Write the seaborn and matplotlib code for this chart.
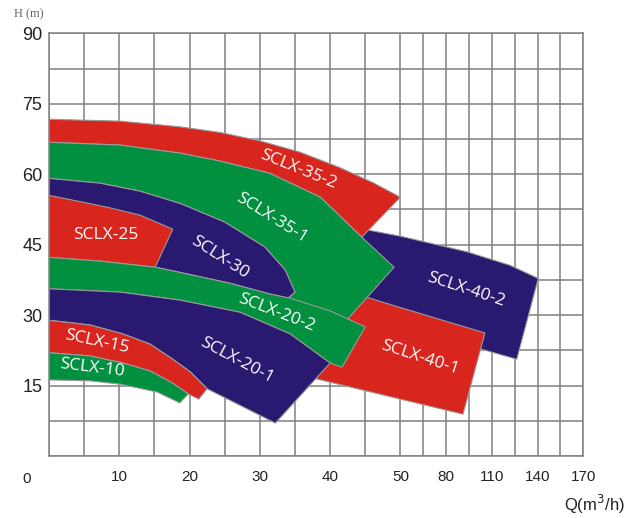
import numpy as np
import matplotlib
matplotlib.use("Agg")
import matplotlib.pyplot as plt
import seaborn as sns

# Pump performance bands, flow Q (m3/h) vs head H (m)
# each band: upper curve and lower curve, listed left to right
models = ["SCLX-40-2", "SCLX-40-1", "SCLX-35-2", "SCLX-35-1", "SCLX-30",
          "SCLX-25", "SCLX-20-2", "SCLX-20-1", "SCLX-15", "SCLX-10"]

q_top_40_2 = [44.0, 50, 93.5, 122.0, 140.5]
h_top_40_2 = [48.5, 46.8, 43.5, 40.6, 37.8]
q_bot_40_2 = [43.5, 50, 104.7, 126.4]
h_bot_40_2 = [31.1, 27.3, 22.6, 20.6]

q_top_40_1 = [38.6, 45.2, 50, 105.5]
h_top_40_1 = [35.7, 33.8, 31.6, 26.2]
q_bot_40_1 = [38.1, 50, 91.1]
h_bot_40_1 = [16.4, 12.1, 8.9]

q_top_35_2 = [0, 10.1, 18.6, 24.3, 30.0, 35.7, 41.4, 46.1, 50]
h_top_35_2 = [71.7, 71.3, 70.1, 68.9, 67.1, 64.7, 61.4, 58.2, 55.1]
q_bot_35_2 = [0, 10.1, 18.6, 24.3, 31.4, 38.6, 44.5]
h_bot_35_2 = [66.8, 66.2, 64.5, 62.8, 60.2, 55.1, 46.6]

q_top_35_1 = [0, 10.1, 18.6, 24.3, 31.4, 38.6, 44.5, 49.1]
h_top_35_1 = [66.8, 66.2, 64.5, 62.8, 60.2, 55.1, 46.6, 40.2]
q_bot_35_1 = [0, 7.2, 12.9, 18.6, 25.0, 30.7, 33.6, 35.0, 34.0, 40.0, 42.4]
h_bot_35_1 = [59.1, 58.1, 56.4, 53.8, 49.8, 44.5, 39.6, 34.9, 33.4, 30.7, 29.0]

q_top_30 = [0, 7.2, 12.9, 18.6, 25.0, 30.7, 33.6, 35.0]
h_top_30 = [59.1, 58.1, 56.4, 53.8, 49.8, 44.5, 39.6, 34.9]
q_bot_30 = [0, 7.2, 15.1, 18.6, 25.7, 31.4, 34.0]
h_bot_30 = [42.3, 41.5, 40.2, 39.1, 36.8, 34.5, 33.6]

q_top_25 = [0, 8.2, 12.9, 17.6]
h_top_25 = [55.5, 53.0, 51.3, 48.3]
q_bot_25 = [0, 7.2, 15.1]
h_bot_25 = [42.3, 41.5, 40.2]

q_top_20_2 = [0, 7.2, 15.1, 18.6, 25.7, 31.4, 34.3, 40.0, 45.0]
h_top_20_2 = [42.3, 41.5, 40.2, 39.1, 36.8, 34.5, 33.6, 30.9, 27.5]
q_bot_20_2 = [0, 10.1, 18.6, 27.2, 34.3, 40.0, 41.7]
h_bot_20_2 = [35.6, 34.9, 33.2, 30.6, 26.0, 19.8, 18.9]

q_top_20_1 = [0, 10.1, 18.6, 27.2, 34.3, 40.0]
h_top_20_1 = [35.6, 34.9, 33.2, 30.6, 26.0, 19.8]
q_bot_20_1 = [0, 5.8, 10.5, 14.4, 17.6, 20.1, 22.5, 32.2]
h_bot_20_1 = [28.9, 27.9, 26.0, 23.8, 20.6, 17.9, 14.3, 7.0]

q_top_15 = [0, 5.8, 10.5, 14.4, 17.6, 20.1, 22.5]
h_top_15 = [28.9, 27.9, 26.0, 23.8, 20.6, 17.9, 14.3]
q_bot_15 = [0, 5.8, 10.5, 14.4, 17.6, 19.8, 21.3]
h_bot_15 = [22.0, 21.3, 19.8, 18.1, 15.5, 13.2, 12.1]

q_top_10 = [0, 5.8, 10.5, 14.4, 17.6, 19.8]
h_top_10 = [22.0, 21.3, 19.8, 18.1, 15.5, 13.2]
q_bot_10 = [0, 5.8, 10.1, 15.4, 18.6]
h_bot_10 = [16.2, 16.0, 15.3, 13.6, 11.3]

# label anchor (Q, H) and angle
label_q = [93.1, 62.9, 35.4, 31.6, 24.3, 8.0, 32.3, 26.7, 6.8, 6.1]
label_h = [35.3, 20.9, 60.9, 50.6, 42.3, 47.0, 30.4, 20.4, 24.3, 18.7]
label_rot = [-18, -18, -22, -32, -33, 0, -21, -28, -12, -7]

x_ticks = [10, 20, 30, 40, 50, 80, 110, 140, 170]
x_grid = [0, 5, 10, 15, 20, 25, 30, 35, 40, 45, 50, 65, 80, 95, 110, 125, 140, 155, 170]
y_ticks = [15, 30, 45, 60, 75, 90]

RED = "#d8261e"
GREEN = "#00903f"
PURPLE = "#2a1971"
colors = [PURPLE, RED, RED, GREEN, PURPLE, RED, GREEN, PURPLE, RED, GREEN]

bands = [
    (q_top_40_2, h_top_40_2, q_bot_40_2, h_bot_40_2),
    (q_top_40_1, h_top_40_1, q_bot_40_1, h_bot_40_1),
    (q_top_35_2, h_top_35_2, q_bot_35_2, h_bot_35_2),
    (q_top_35_1, h_top_35_1, q_bot_35_1, h_bot_35_1),
    (q_top_30, h_top_30, q_bot_30, h_bot_30),
    (q_top_25, h_top_25, q_bot_25, h_bot_25),
    (q_top_20_2, h_top_20_2, q_bot_20_2, h_bot_20_2),
    (q_top_20_1, h_top_20_1, q_bot_20_1, h_bot_20_1),
    (q_top_15, h_top_15, q_bot_15, h_bot_15),
    (q_top_10, h_top_10, q_bot_10, h_bot_10),
]

# axis is linear to 50 (5 per column), then 15 per narrower column
SQUEEZE = 22.85 / 35.13 / 3.0


def fwd(q):
    q = np.asarray(q, dtype=float)
    return np.where(q <= 50, q, 50 + (q - 50) * SQUEEZE)


def inv(u):
    u = np.asarray(u, dtype=float)
    return np.where(u <= 50, u, 50 + (u - 50) / SQUEEZE)


sns.set_theme(style="white")
plt.rcParams["font.family"] = ["Liberation Sans", "DejaVu Sans"]

fig = plt.figure(figsize=(6.26, 5.18), dpi=100)
ax = fig.add_axes([49.1 / 626, 62 / 518, 534.1 / 626, 422.7 / 518])
ax.set_xscale("function", functions=(fwd, inv))
ax.set_xlim(0, 170)
ax.set_ylim(0, 90)

GRID = "#808080"
ax.set_xticks(x_ticks)
ax.set_xticks(x_grid, minor=True)
ax.set_yticks(y_ticks)
ax.set_yticks(np.arange(0, 91, 7.5), minor=True)
ax.grid(True, which="both", color=GRID, linewidth=1.1)
ax.set_axisbelow(True)
for s in ax.spines.values():
    s.set_color(GRID)
    s.set_linewidth(1.1)
ax.tick_params(which="both", length=0)
ax.tick_params(axis="x", pad=10, labelsize=11, labelcolor="#222222")
ax.tick_params(axis="y", pad=5, labelsize=13, labelcolor="#222222")

for (qt, ht, qb, hb), c in zip(bands, colors):
    qs = list(qt) + list(qb)[::-1]
    hs = list(ht) + list(hb)[::-1]
    ax.fill(qs, hs, color=c, edgecolor="#9a9a9a", linewidth=0.8)

for name, q, h, r in zip(models, label_q, label_h, label_rot):
    ax.text(q, h, name, rotation=r, rotation_mode="anchor", ha="center", va="center",
            color="white", fontsize=12.5, family=["Open Sans", "DejaVu Sans"])

ax.annotate("0", xy=(0, 0), xytext=(-16.4, -16.5), textcoords="offset points",
            ha="center", va="center", fontsize=11, color="#222222")

fig.text(0.998, (518 - 504) / 518, "Q(m$^3$/h)", ha="right", va="center",
         fontsize=12, color="#222222")
fig.text(29 / 626, (518 - 14) / 518, "H (m)", ha="center", va="center",
         fontsize=9, color="#666666", family=["Liberation Serif", "DejaVu Serif"])

fig.savefig("out.png", dpi=100)
